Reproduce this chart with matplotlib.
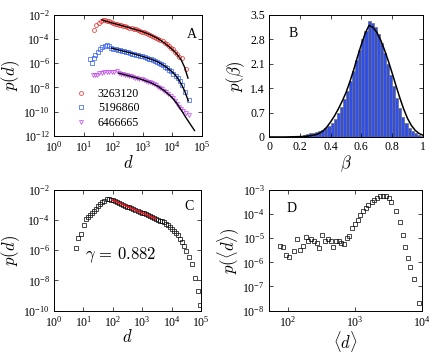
import numpy as np
import matplotlib
matplotlib.use("Agg")
import matplotlib.pyplot as plt

plt.rcParams["font.family"] = "Liberation Serif"
plt.rcParams["mathtext.fontset"] = "custom"
plt.rcParams["mathtext.rm"] = "Liberation Serif"
plt.rcParams["mathtext.it"] = "Liberation Serif:italic"

# ---- Panel A: p(d) for three users (log10 values) ----
A_LABELS = ["3263120", "5196860", "6466665"]

a_red_logd = [1.36, 1.43, 1.51, 1.58, 1.64, 1.71, 1.78, 1.85, 1.92, 1.99, 2.06, 2.13, 2.20, 2.27,
              2.34, 2.41, 2.48, 2.55, 2.62, 2.69, 2.76, 2.83, 2.90, 2.97, 3.04, 3.11, 3.18, 3.25,
              3.32, 3.39, 3.46, 3.53, 3.60, 3.67, 3.74, 3.81, 3.88, 3.95, 4.02, 4.09, 4.16, 4.24,
              4.32, 4.47]
a_red_logp = [-3.29, -2.88, -2.69, -2.55, -2.41, -2.40, -2.47, -2.53, -2.60, -2.66, -2.72, -2.76,
              -2.83, -2.86, -2.92, -2.95, -3.01, -3.05, -3.12, -3.15, -3.21, -3.25, -3.31, -3.38,
              -3.42, -3.50, -3.56, -3.64, -3.72, -3.81, -3.89, -3.98, -4.09, -4.20, -4.32, -4.45,
              -4.56, -4.72, -4.86, -5.05, -5.22, -5.45, -5.60, -6.50]
a_red_fit_logd = [1.62, 1.80, 2.00, 2.25, 2.50, 2.75, 3.00, 3.25, 3.50, 3.75, 4.00, 4.15, 4.30, 4.42, 4.53]
a_red_fit_logp = [-2.42, -2.55, -2.70, -2.86, -3.03, -3.21, -3.40, -3.64, -3.95, -4.35, -4.85,
                  -5.22, -5.72, -6.35, -7.23]

a_blue_logd = [1.21, 1.28, 1.34, 1.40, 1.48, 1.54, 1.62, 1.71, 1.79, 1.87, 1.94, 2.01, 2.08, 2.15,
               2.22, 2.29, 2.36, 2.43, 2.50, 2.57, 2.64, 2.71, 2.78, 2.85, 2.92, 2.99, 3.06, 3.13,
               3.20, 3.27, 3.34, 3.41, 3.48, 3.55, 3.62, 3.69, 3.76, 3.83, 3.90, 3.97, 4.04, 4.11,
               4.18, 4.25, 4.32, 4.43, 4.55]
a_blue_logp = [-5.66, -5.99, -5.58, -5.31, -5.03, -4.84, -4.67, -4.54, -4.48, -4.56, -4.75, -4.80,
               -4.85, -4.87, -4.93, -4.96, -5.02, -5.05, -5.10, -5.14, -5.20, -5.24, -5.30, -5.34,
               -5.40, -5.44, -5.49, -5.54, -5.61, -5.66, -5.73, -5.79, -5.86, -5.95, -6.06, -6.16,
               -6.28, -6.40, -6.54, -6.68, -6.85, -7.05, -7.25, -7.50, -7.80, -8.34, -9.02]
a_blue_fit_logd = [1.94, 2.25, 2.50, 2.75, 3.00, 3.25, 3.50, 3.75, 4.00, 4.15, 4.30, 4.42, 4.54]
a_blue_fit_logp = [-4.75, -4.94, -5.09, -5.26, -5.44, -5.64, -5.88, -6.24, -6.72, -7.12, -7.70,
                   -8.30, -9.10]

a_purple_logd = [1.31, 1.38, 1.46, 1.53, 1.61, 1.70, 1.78, 1.87, 1.95, 2.04, 2.12, 2.19, 2.26, 2.33,
                 2.40, 2.47, 2.54, 2.61, 2.68, 2.75, 2.82, 2.89, 2.96, 3.03, 3.10, 3.17, 3.24, 3.31,
                 3.38, 3.45, 3.52, 3.59, 3.66, 3.73, 3.80, 3.87, 3.94, 4.01, 4.08, 4.15, 4.22, 4.29,
                 4.36, 4.45, 4.55]
a_purple_logp = [-6.96, -7.01, -6.96, -6.82, -6.77, -6.71, -6.74, -6.71, -6.74, -6.71, -6.68, -6.82,
                 -6.90, -6.92, -6.97, -7.00, -7.05, -7.09, -7.13, -7.18, -7.22, -7.28, -7.33, -7.38,
                 -7.44, -7.51, -7.58, -7.66, -7.74, -7.82, -7.92, -8.03, -8.14, -8.27, -8.40, -8.55,
                 -8.70, -8.90, -9.10, -9.35, -9.60, -9.75, -9.95, -10.10, -10.30]
a_purple_fit_logd = [2.19, 2.50, 2.75, 3.00, 3.25, 3.50, 3.75, 4.00, 4.15, 4.30, 4.45, 4.60, 4.75]
a_purple_fit_logp = [-6.82, -7.02, -7.18, -7.37, -7.58, -7.88, -8.30, -8.85, -9.30, -9.85, -10.45,
                     -11.00, -11.55]

# ---- Panel B: histogram of beta (bins of 0.02) and fitted curve ----
b_bin_left = [i * 0.02 for i in range(50)]
b_density = [0, 0, 0, 0, 0, 0.005, 0.01, 0.015, 0.02, 0.03,
             0.04, 0.06, 0.08, 0.10, 0.12, 0.14, 0.17, 0.21, 0.26, 0.32,
             0.40, 0.52, 0.68, 0.85, 1.10, 1.33, 1.60, 1.90, 2.20, 2.50,
             2.80, 3.05, 3.32, 3.28, 3.15, 2.95, 2.70, 2.42, 2.10, 1.78,
             1.45, 1.12, 0.82, 0.58, 0.40, 0.26, 0.17, 0.11, 0.07, 0.04]
b_fit_beta = [0.0, 0.1, 0.15, 0.2, 0.225, 0.25, 0.275, 0.3, 0.325, 0.35, 0.375, 0.4, 0.425, 0.45,
              0.475, 0.5, 0.525, 0.55, 0.575, 0.6, 0.625, 0.65, 0.675, 0.7, 0.725, 0.75, 0.775,
              0.8, 0.825, 0.85, 0.875, 0.9, 0.925, 0.95, 0.975, 1.0]
b_fit_p = [0.0, 0.0, 0.005, 0.01, 0.015, 0.025, 0.04, 0.06, 0.10, 0.17, 0.28, 0.43, 0.60, 0.80,
           1.02, 1.27, 1.58, 1.92, 2.30, 2.65, 2.97, 3.20, 3.14, 3.00, 2.78, 2.50, 2.18, 1.83,
           1.47, 1.12, 0.80, 0.53, 0.33, 0.19, 0.10, 0.05]

# ---- Panel C: aggregated p(d) and power-law fit ----
c_logd = [0.74, 0.83, 0.90, 1.03, 1.10, 1.16, 1.22, 1.28, 1.35, 1.42, 1.49, 1.56, 1.63, 1.71, 1.79,
          1.86, 1.93, 2.00, 2.07, 2.14, 2.21, 2.28, 2.35, 2.42, 2.49, 2.56, 2.63, 2.70, 2.77, 2.84,
          2.91, 2.98, 3.05, 3.12, 3.19, 3.26, 3.33, 3.40, 3.47, 3.54, 3.61, 3.68, 3.74, 3.80, 3.87,
          3.94, 4.01, 4.08, 4.15, 4.22, 4.29, 4.36, 4.43, 4.50, 4.60, 4.69, 4.81, 4.89, 4.98]
c_logp = [-5.82, -5.20, -4.95, -4.35, -3.90, -3.79, -3.68, -3.55, -3.42, -3.27, -3.09, -2.94, -2.81,
          -2.72, -2.63, -2.61, -2.66, -2.70, -2.75, -2.81, -2.87, -2.92, -2.98, -3.04, -3.10, -3.15,
          -3.21, -3.27, -3.32, -3.38, -3.44, -3.50, -3.56, -3.62, -3.68, -3.74, -3.80, -3.86, -3.91,
          -3.97, -4.03, -4.09, -4.15, -4.24, -4.33, -4.45, -4.57, -4.70, -4.85, -5.02, -5.22, -5.45,
          -5.72, -6.05, -6.45, -6.89, -7.85, -8.73, -9.63]
c_fit_logd = [1.97, 3.45]
c_fit_logp = [-2.66, -3.90]
GAMMA = 0.882

# ---- Panel D: p(<d>) ----
d_logmean = [1.875, 1.925, 1.965, 2.01, 2.085, 2.135, 2.175, 2.225, 2.265, 2.30, 2.34, 2.385,
             2.425, 2.465, 2.51, 2.55, 2.59, 2.635, 2.675, 2.715, 2.755, 2.79, 2.835, 2.875,
             2.915, 2.96, 3.00, 3.04, 3.075, 3.125, 3.16, 3.20, 3.25, 3.29, 3.325, 3.375, 3.415,
             3.46, 3.50, 3.54, 3.615, 3.665, 3.71, 3.75, 3.79, 3.825, 3.875, 3.95]
d_logp = [-5.33, -5.37, -5.70, -5.77, -5.53, -5.05, -5.47, -5.33, -4.96, -5.12, -5.05, -5.12,
          -5.19, -5.40, -4.88, -5.12, -5.05, -5.12, -5.37, -5.12, -5.12, -5.19, -5.22, -4.99,
          -4.89, -4.58, -4.41, -4.23, -4.05, -3.89, -3.75, -3.62, -3.51, -3.41, -3.32, -3.27,
          -3.25, -3.27, -3.34, -3.48, -3.89, -4.33, -4.85, -5.36, -5.84, -6.19, -6.70, -7.70]

TICK_SIZE = 8.5
LABEL_SIZE = 12
LETTER_SIZE = 10


def style_axes(ax):
    ax.tick_params(which="both", direction="in", top=True, right=True, labelsize=TICK_SIZE,
                   length=3, width=0.5, pad=3)
    ax.minorticks_off()
    for spine in ax.spines.values():
        spine.set_linewidth(0.7)


def pw(values):
    return 10 ** np.asarray(values)


fig = plt.figure(figsize=(4.36, 3.53), dpi=100)
ax_a = fig.add_axes([0.124, 0.615, 0.339, 0.343])
ax_b = fig.add_axes([0.617, 0.612, 0.353, 0.346])
ax_c = fig.add_axes([0.124, 0.12, 0.337, 0.342])
ax_d = fig.add_axes([0.617, 0.12, 0.351, 0.342])

# Panel A
mk = dict(linestyle="none", markerfacecolor="none", markersize=2.8, markeredgewidth=0.5)
ax_a.plot(pw(a_red_logd), pw(a_red_logp), marker="o", color="#f02020", label=A_LABELS[0], **mk)
ax_a.plot(pw(a_blue_logd), pw(a_blue_logp), marker="s", color="#2f5cf0", label=A_LABELS[1], **mk)
ax_a.plot(pw(a_purple_logd), pw(a_purple_logp), marker="v", color="#c040f0", label=A_LABELS[2], **mk)
for fx, fy in [(a_red_fit_logd, a_red_fit_logp), (a_blue_fit_logd, a_blue_fit_logp),
               (a_purple_fit_logd, a_purple_fit_logp)]:
    ax_a.plot(pw(fx), pw(fy), color="black", linewidth=1.0)
ax_a.set_xscale("log")
ax_a.set_yscale("log")
ax_a.set_xlim(1, 1e5)
ax_a.set_ylim(1e-12, 1e-2)
ax_a.set_xticks([10.0 ** k for k in range(0, 6)])
ax_a.set_yticks([10.0 ** k for k in range(-12, -1, 2)])
style_axes(ax_a)
ax_a.set_xlabel("$d$", fontsize=LABEL_SIZE, math_fontfamily="cm", labelpad=0)
ax_a.set_ylabel("$p(d)$", fontsize=LABEL_SIZE, math_fontfamily="cm", labelpad=1)
ax_a.text(0.93, 0.84, "A", transform=ax_a.transAxes, fontsize=LETTER_SIZE, ha="center", va="center")
ax_a.legend(loc="lower left", bbox_to_anchor=(0.12, 0.02), frameon=False, fontsize=8.5,
            handlelength=0.8, handletextpad=1.0, labelspacing=0.2, borderaxespad=0)

# Panel B
ax_b.bar(b_bin_left, b_density, width=0.02, align="edge", color="#2f4fe8", edgecolor="#6e6e78",
         linewidth=0.5)
ax_b.plot(b_fit_beta, b_fit_p, color="black", linewidth=1.1)
ax_b.set_xlim(0, 1)
ax_b.set_ylim(0, 3.5)
ax_b.set_xticks([0, 0.2, 0.4, 0.6, 0.8, 1])
ax_b.set_xticklabels(["0", "0.2", "0.4", "0.6", "0.8", "1"])
ax_b.set_yticks([0, 0.7, 1.4, 2.1, 2.8, 3.5])
ax_b.set_yticklabels(["0", "0.7", "1.4", "2.1", "2.8", "3.5"])
style_axes(ax_b)
ax_b.set_xlabel(r"$\beta$", fontsize=LABEL_SIZE, math_fontfamily="cm", labelpad=0)
ax_b.set_ylabel(r"$p(\beta)$", fontsize=LABEL_SIZE, math_fontfamily="cm", labelpad=2)
ax_b.text(0.16, 0.85, "B", transform=ax_b.transAxes, fontsize=LETTER_SIZE, ha="center", va="center")

# Panel C
sq = dict(linestyle="none", marker="s", markersize=2.6, markerfacecolor="none",
          markeredgecolor="black", markeredgewidth=0.5)
ax_c.plot(pw(c_logd), pw(c_logp), **sq)
ax_c.plot(pw(c_fit_logd), pw(c_fit_logp), color="#e8141e", linewidth=1.3)
ax_c.set_xscale("log")
ax_c.set_yscale("log")
ax_c.set_xlim(1, 1e5)
ax_c.set_ylim(1e-10, 1e-2)
ax_c.set_xticks([10.0 ** k for k in range(0, 6)])
ax_c.set_yticks([10.0 ** k for k in range(-10, -1, 2)])
style_axes(ax_c)
ax_c.set_xlabel("$d$", fontsize=LABEL_SIZE, math_fontfamily="cm", labelpad=0)
ax_c.set_ylabel("$p(d)$", fontsize=LABEL_SIZE, math_fontfamily="cm", labelpad=1)
ax_c.text(0.92, 0.86, "C", transform=ax_c.transAxes, fontsize=LETTER_SIZE, ha="center", va="center")
ax_c.text(0.21, 0.46, rf"$\gamma\,=\,{GAMMA}$", transform=ax_c.transAxes, fontsize=12,
          math_fontfamily="cm", ha="left", va="center")

# Panel D
ax_d.plot(pw(d_logmean), pw(d_logp), **sq)
ax_d.set_xscale("log")
ax_d.set_yscale("log")
ax_d.set_xlim(52, 1e4)
ax_d.set_ylim(1e-8, 1e-3)
ax_d.set_xticks([1e2, 1e3, 1e4])
ax_d.set_yticks([10.0 ** k for k in range(-8, -2)])
style_axes(ax_d)
ax_d.set_xlabel(r"$\langle d\rangle$", fontsize=LABEL_SIZE, math_fontfamily="cm", labelpad=0)
ax_d.set_ylabel(r"$p(\langle d\rangle)$", fontsize=LABEL_SIZE, math_fontfamily="cm", labelpad=1)
ax_d.text(0.15, 0.85, "D", transform=ax_d.transAxes, fontsize=LETTER_SIZE, ha="center", va="center")

fig.savefig("out.png", dpi=100)
